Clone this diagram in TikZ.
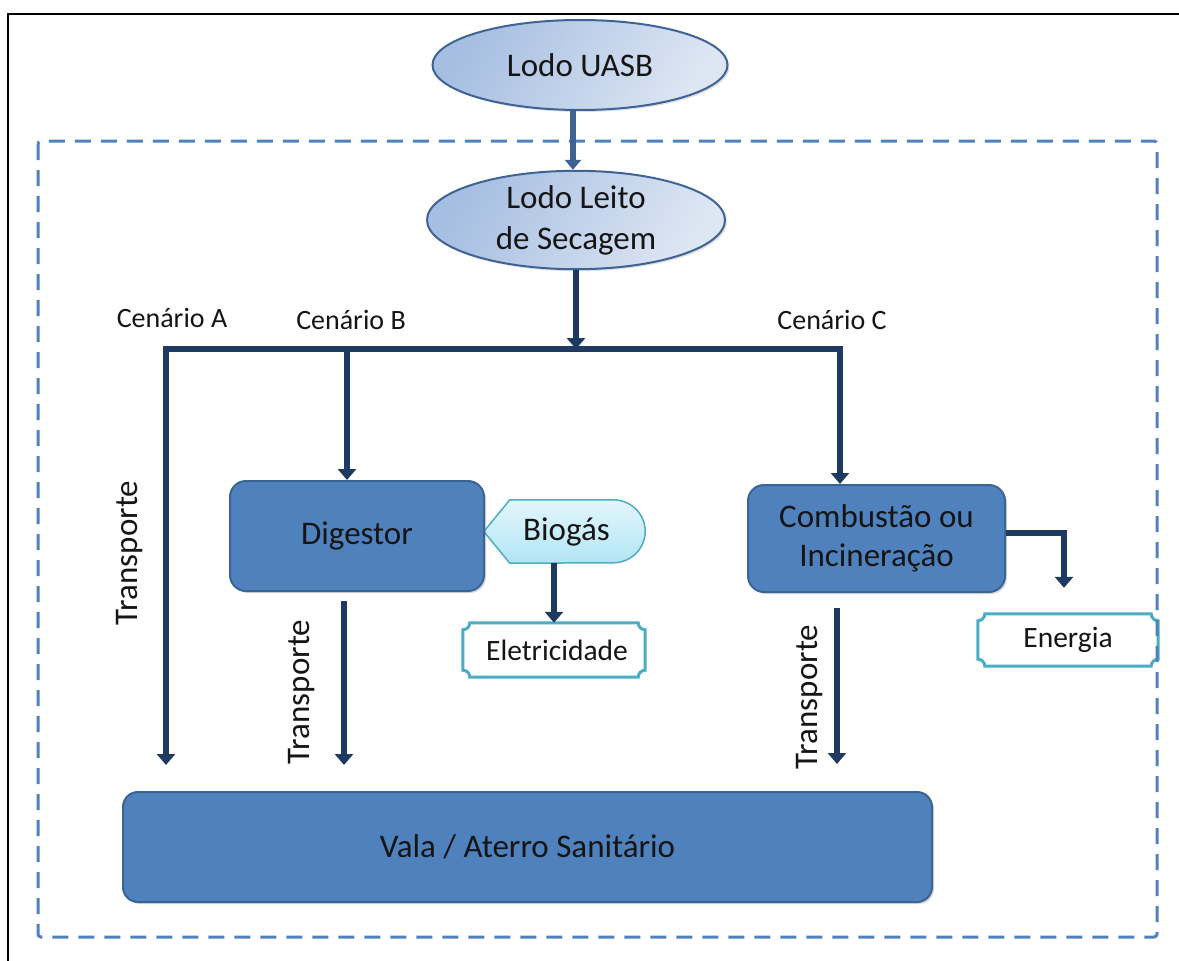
\documentclass[tikz,border=0pt]{standalone}
\usepackage{fontspec}
\setmainfont{Carlito}
\usetikzlibrary{arrows.meta,calc,shapes.geometric,shadows}
\pgfdeclarelayer{bg}
\pgfsetlayers{bg,main}

\definecolor{navy}{HTML}{1F3A60}
\definecolor{slate}{HTML}{3D6293}
\definecolor{boxfill}{HTML}{4F81BD}
\definecolor{boxline}{HTML}{3A6496}
\definecolor{ellA}{HTML}{A6BEE1}
\definecolor{ellB}{HTML}{DDE6F3}
\definecolor{ellline}{HTML}{3F6396}
\definecolor{aqua}{HTML}{4BACC6}
\definecolor{bioA}{HTML}{E3F6FC}
\definecolor{bioB}{HTML}{B2E5F5}
\definecolor{dashblue}{HTML}{4F81BD}
\definecolor{ink}{HTML}{151515}

\begin{document}
\begin{tikzpicture}[x=1pt,y=1pt,
  big/.style={font=\fontsize{33}{40}\selectfont, text=ink},
  small/.style={font=\fontsize{28}{33}\selectfont, text=ink},
  mid/.style={font=\fontsize{29.5}{34}\selectfont, text=ink},
  oval/.style={ellipse, draw=ellline, line width=2pt, left color=ellA, right color=ellB,
    shading angle=60, inner sep=0pt, align=center, big,
    drop shadow={shadow xshift=2pt, shadow yshift=-2pt, opacity=.25}},
  block/.style={rectangle, rounded corners=16pt, draw=boxline, line width=2pt, fill=boxfill,
    inner sep=0pt, align=center, big,
    drop shadow={shadow xshift=2pt, shadow yshift=-2pt, opacity=.3}},
  arr/.style={draw=navy, line width=6pt, -{Triangle[width=18pt,length=11pt]}},
  bus/.style={draw=navy, line width=6pt, line cap=rect},
  plaqueline/.style={draw=aqua, line width=3pt, fill=white},
]
\useasboundingbox (0,0) rectangle (1179,-961);

% outer frame (left and top edges)
\draw[black, line width=2.5pt] (8,-961) -- (8,-14) -- (1179,-14);

% dashed boundary of the scenarios
\draw[dashblue, line width=3pt, dash pattern=on 16pt off 10pt, rounded corners=3pt]
  (38,-141) rectangle (1157,-937);

% sludge sources
\node[oval, minimum width=295pt, minimum height=90pt] (uasb) at (580,-65) {Lodo UASB};
\node[oval, minimum width=298pt, minimum height=95pt, font=\fontsize{33}{41}\selectfont] (leito) at (576,-220) {Lodo Leito\\de Secagem};

% treatment blocks
\node[block, minimum width=254pt, minimum height=110pt] (dig) at (357,-536) {Digestor};
\node[block, minimum width=257pt, minimum height=107pt, font=\fontsize{33}{39}\selectfont] (comb) at (876.5,-538.5) {Combustão ou\\Incineração};
\node[block, rounded corners=15pt, minimum width=809pt, minimum height=110pt] (vala) at (527.5,-847) {Vala / Aterro Sanitário};

% by-products
\node[big, minimum width=161pt, minimum height=63pt, inner sep=0pt] (bio) at (564.5,-531.5) {\hspace*{4pt}Biogás};
\node[mid, minimum width=182pt, minimum height=54pt, inner sep=0pt] (elec) at (554,-650) {\hspace*{6pt}Eletricidade};
\node[mid, minimum width=180pt, minimum height=52pt, inner sep=0pt] (ener) at (1068,-640) {Energia};

\begin{pgfonlayer}{bg}
  % Biogás: pointed left end, rounded right end
  \path[draw=aqua, line width=1.5pt, top color=bioA, bottom color=bioB]
    (bio.west) -- ([xshift=26pt]bio.north west) -- ([xshift=-32pt]bio.north east)
    arc[start angle=90, end angle=-90, x radius=32pt, y radius=31.5pt]
    -- ([xshift=26pt]bio.south west) -- cycle;
  % plaques with concave corners
  \foreach \p in {elec,ener}{
    \path[plaqueline]
      ([xshift=7pt]\p.north west) -- ([xshift=-7pt]\p.north east)
      arc[start angle=180, end angle=270, radius=7pt]
      -- ([yshift=7pt]\p.south east)
      arc[start angle=90, end angle=180, radius=7pt]
      -- ([xshift=7pt]\p.south west)
      arc[start angle=0, end angle=90, radius=7pt]
      -- ([yshift=-7pt]\p.north west)
      arc[start angle=-90, end angle=0, radius=7pt] -- cycle;
  }
\end{pgfonlayer}

% scenario labels
\node[small] (lA) at (172,-318) {Cenário A};
\node[small] (lB) at (351,-320) {Cenário B};
\node[small] (lC) at (832,-320) {Cenário C};

% distribution bus
\coordinate (cA) at (166,-349);
\coordinate (cB) at (347,-349);
\coordinate (cC) at (840,-349);
\coordinate (J) at (576,-349);

\draw[slate, line width=5.5pt, -{Triangle[width=16pt,length=10pt]}]
  ([xshift=-3pt]leito.north |- uasb.south) -- ([xshift=-3pt]leito.north);
\draw[bus] (cA) -- (cC);
\draw[arr] (leito.south) -- (J);
\draw[arr, shorten >=26pt] (cA) -- (cA |- vala.north);
\draw[arr] (cB) -- (cB |- dig.north);
\draw[arr] (cC) -- (cC |- comb.north);

% transport to landfill
\coordinate (dB) at ($(dig.south)+(-13,-9)$);
\coordinate (dC) at ($(comb.south)+(-39.5,-15)$);
\draw[arr, shorten >=26pt] (dB) -- (dB |- vala.north);
\draw[arr, shorten >=27pt] (dC) -- (dC |- vala.north);

% energy recovery
\draw[arr] (elec.north |- bio.south) -- (elec.north);
\draw[arr, shorten >=26pt] ([yshift=6pt]comb.east) -| ([xshift=-4pt]ener.north);

% transport labels
\node[big, rotate=90] (tA) at (130,-553) {Transporte};
\node[big, rotate=90] (tB) at (302,-692) {Transporte};
\node[big, rotate=90] (tC) at (810,-697) {Transporte};
\end{tikzpicture}
\end{document}
